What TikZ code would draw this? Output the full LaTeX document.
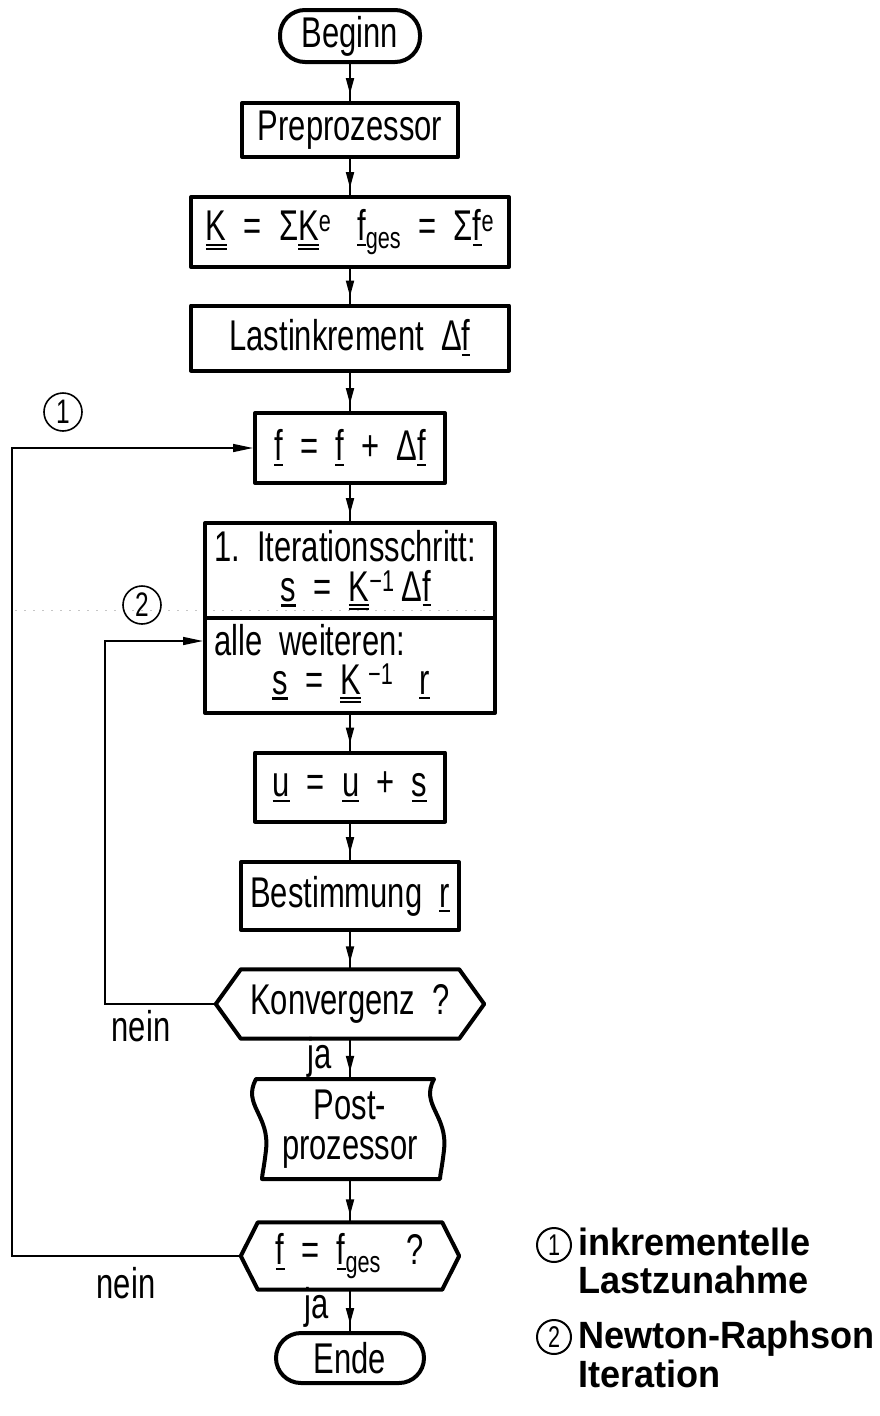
\documentclass[tikz,border=0pt]{standalone}
\usepackage{fontspec}
\setmainfont{Liberation Sans}[FakeStretch=0.72]
\newfontfamily\legfont{Liberation Sans}[FakeStretch=0.95]
\usetikzlibrary{arrows.meta,decorations.markings}
\newcommand\uv[1]{\vtop{\hbox{#1}\kern3pt\hrule height 2.2pt}}
\newcommand\um[1]{\vtop{\hbox{#1}\kern3pt\hrule height 2pt\kern2pt\hrule height 2pt}}
\newcommand\mysup[1]{\textsuperscript{#1}}
\newcommand\mysub[1]{\textsubscript{#1}}
\tikzset{
  every node/.style={font=\fontsize{43}{40}\selectfont, inner sep=0pt},
  box/.style={draw, line width=4pt, rectangle, line join=round},
  term/.style={draw, line width=4pt, rounded corners=25pt},
  shapeline/.style={line width=4pt, line join=round},
  flow/.style={line width=2pt, postaction={decorate},
    decoration={markings, mark=at position -7pt with {\arrow{Triangle[length=16pt,width=8pt]}}}},
  loopline/.style={line width=1.6pt, -{Triangle[length=20pt,width=8pt]}},
  circ/.style={draw, circle, line width=1.6pt, minimum size=38pt, font=\fontsize{34}{34}\selectfont},
  lcirc/.style={draw, circle, line width=2pt, minimum size=34pt, font=\fontsize{30}{30}\selectfont},
  legend/.style={anchor=base west, font=\fontsize{38}{36}\selectfont\legfont\bfseries},
  lbl/.style={anchor=base}
}
\begin{document}
\begin{tikzpicture}[x=1pt,y=-1pt]
\useasboundingbox (0,0) rectangle (880,1416);
\fill[white] (0,0) rectangle (880,1416);
% scan artifact
\draw[gray!45, line width=1pt, dash pattern=on 2pt off 7pt] (15,610) -- (490,610);

% main column
\node[term, minimum width=140pt, minimum height=52pt] (beg) at (350,36) {Beginn};
\node[box, minimum width=216pt, minimum height=54pt] (pre) at (350,130) {Preprozessor};
\node[box, minimum width=318pt, minimum height=70pt] (K) at (350,232)
  {\um{K}\ \ =\ \ Σ\um{K}\mysup{e}\ \ \ \uv{f}\mysub{ges}\ \ =\ \ Σ\uv{f}\mysup{e}};
\node[box, minimum width=318pt, minimum height=65pt] (last) at (350,338) {Lastinkrement\ \ Δ\uv{f}};
\node[box, minimum width=190pt, minimum height=70pt] (finc) at (350,448) {\uv{f}\ \ =\ \ \uv{f}\ \ +\ \ Δ\uv{f}};
\node[box, minimum width=290pt, minimum height=190pt] (iter) at (350,618) {};
\draw[line width=4pt] (iter.west) -- (iter.east);
\node[anchor=base west] (it1) at (214,561) {1.\ \ Iterationsschritt:};
\node[lbl] (it2) at (356,601) {\uv{s}\ \ =\ \ \um{K}\mysup{−1}\,Δ\uv{f}};
\node[anchor=base west] (it3) at (214,655) {alle\ \ weiteren:};
\node[lbl] (it4) at (351,694) {\uv{s}\ \ =\ \ \um{K}\,\mysup{−1}\ \ \ \uv{r}};
\node[box, minimum width=190pt, minimum height=69pt] (u) at (350,787) {\uv{u}\ \ =\ \ \uv{u}\ \ +\ \ \uv{s}};
\node[box, minimum width=218pt, minimum height=68pt] (best) at (350,896) {Bestimmung\ \ \uv{r}};

% Konvergenz hexagon
\node[minimum width=268pt, minimum height=69pt] (konv) at (350,1004) {Konvergenz\ \ ?};
\draw[shapeline] (konv.west) -- ([xshift=25pt]konv.north west) -- ([xshift=-25pt]konv.north east)
  -- (konv.east) -- ([xshift=-25pt]konv.south east) -- ([xshift=25pt]konv.south west) -- cycle;

% Postprozessor (punched tape)
\node[minimum width=180pt, minimum height=100pt, align=center] (post) at (350,1129) {Post-\\prozessor};
\draw[shapeline] (256,1079) -- (434,1079) .. controls (420,1105) and (448,1115) .. (444,1150)
  .. controls (442,1168) and (440,1175) .. (440,1179) -- (262,1179)
  .. controls (262,1175) and (264,1168) .. (266,1150)
  .. controls (270,1115) and (242,1105) .. (256,1079) -- cycle;

% f = fges hexagon
\node[minimum width=218pt, minimum height=67pt] (fq) at (350,1256) {\uv{f}\ \ =\ \ \uv{f}\mysub{ges}\ \ \ ?};
\draw[shapeline] (fq.west) -- ([xshift=17pt]fq.north west) -- ([xshift=-17pt]fq.north east)
  -- (fq.east) -- ([xshift=-17pt]fq.south east) -- ([xshift=17pt]fq.south west) -- cycle;

\node[term, minimum width=148pt, minimum height=50pt] (ende) at (350,1358) {Ende};

% connectors
\draw[flow] (beg.south) -- (pre.north);
\draw[flow] (pre.south) -- (K.north);
\draw[flow] (K.south) -- (last.north);
\draw[flow] (last.south) -- (finc.north);
\draw[flow] (finc.south) -- (iter.north);
\draw[flow] (iter.south) -- (u.north);
\draw[flow] (u.south) -- (best.north);
\draw[flow] (best.south) -- (konv.north);
\draw[flow] (konv.south) -- (post.north);
\draw[flow] (post.south) -- (fq.north);
\draw[flow] (fq.south) -- (ende.north);

% loops
\coordinate (l1) at (12,0);
\coordinate (l2) at (105,0);
\draw[loopline] (fq.west) -- (fq.west -| l1) |- (finc.west);
\draw[loopline] (konv.west) -- (konv.west -| l2) |- ([yshift=-23pt]iter.west);

% labels
\node[lbl] (ja1) at (320,1068) {ja};
\node[lbl] (ja2) at (317,1318) {ja};
\node[lbl] (nein1) at (126,1298) {nein};
\node[lbl] (nein2) at (141,1041) {nein};
\node[circ] (c1) at (63,412) {1};
\node[circ] (c2) at (142,605) {2};

% legend
\node[lcirc] (lc1) at (554,1245) {1};
\node[legend] (lg1a) at (578,1255) {inkrementelle};
\node[legend] (lg1b) at (578,1293) {Lastzunahme};
\node[lcirc] (lc2) at (554,1337) {2};
\node[legend] (lg2a) at (578,1348) {Newton-Raphson};
\node[legend] (lg2b) at (578,1387) {Iteration};
\end{tikzpicture}
\end{document}
